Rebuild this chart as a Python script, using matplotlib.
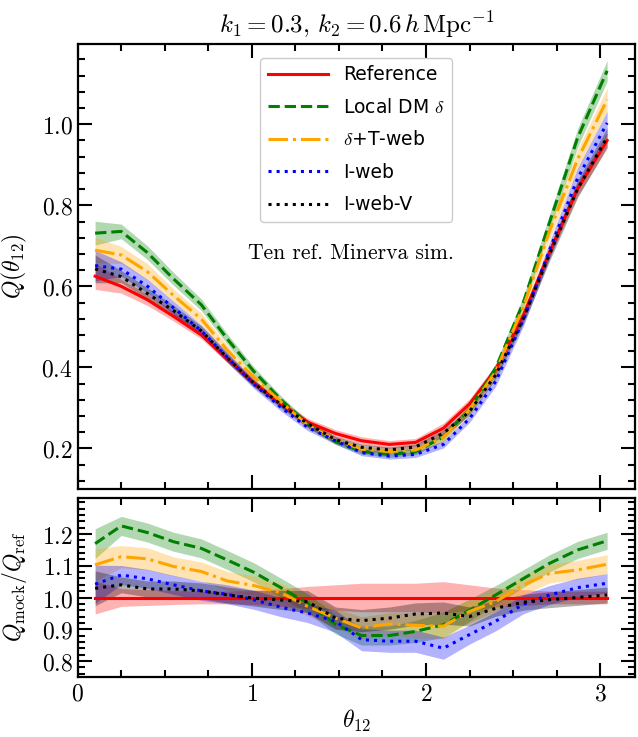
import matplotlib
matplotlib.use("Agg")
import matplotlib.pyplot as plt
import numpy as np
from matplotlib.ticker import MultipleLocator, FuncFormatter

plt.rcParams["mathtext.fontset"] = "cm"
plt.rcParams["font.family"] = "DejaVu Sans"

# bin centres of theta_12
theta = np.array([0.10, 0.25, 0.40, 0.55, 0.71, 0.86, 1.01, 1.17, 1.32, 1.48,
                  1.63, 1.79, 1.94, 2.10, 2.25, 2.40, 2.56, 2.71, 2.87, 3.04])

# reduced bispectrum of the reference sims
q_ref = np.array([0.625, 0.600, 0.567, 0.526, 0.480, 0.420, 0.362, 0.310, 0.265, 0.237,
                  0.219, 0.210, 0.215, 0.250, 0.310, 0.395, 0.530, 0.685, 0.840, 0.960])

# ratios Q_mock / Q_ref
ratio_ref = np.ones(20)
ratio_dm = np.array([1.170, 1.226, 1.205, 1.176, 1.155, 1.118, 1.080, 1.030, 0.982, 0.915,
                     0.880, 0.880, 0.893, 0.914, 0.960, 1.008, 1.060, 1.108, 1.150, 1.179])
ratio_tweb = np.array([1.103, 1.129, 1.122, 1.098, 1.082, 1.052, 1.038, 1.014, 0.972, 0.935,
                       0.904, 0.917, 0.912, 0.910, 0.956, 0.987, 1.040, 1.076, 1.087, 1.105])
ratio_iweb = np.array([1.042, 1.071, 1.059, 1.040, 1.021, 1.010, 0.993, 0.969, 0.951, 0.925,
                       0.867, 0.862, 0.862, 0.840, 0.883, 0.925, 0.979, 1.008, 1.031, 1.045])
ratio_iwebv = np.array([1.029, 1.040, 1.027, 1.027, 1.021, 1.008, 0.998, 0.992, 0.987, 0.935,
                        0.927, 0.935, 0.948, 0.951, 0.940, 0.966, 0.985, 0.993, 1.000, 1.008])

# 1-sigma half widths of the ratios
err_ref = np.array([0.052, 0.028, 0.025, 0.022, 0.020, 0.020, 0.022, 0.028, 0.035, 0.040,
                    0.045, 0.045, 0.045, 0.050, 0.040, 0.030, 0.025, 0.020, 0.020, 0.020])
err_dm = np.array([0.047, 0.030, 0.030, 0.030, 0.030, 0.030, 0.030, 0.030, 0.030, 0.030,
                   0.030, 0.030, 0.035, 0.040, 0.035, 0.030, 0.028, 0.027, 0.027, 0.027])
err_tweb = np.array([0.050, 0.035, 0.035, 0.030, 0.030, 0.030, 0.030, 0.030, 0.030, 0.030,
                     0.035, 0.035, 0.040, 0.040, 0.035, 0.030, 0.030, 0.030, 0.030, 0.030])
err_iweb = np.array([0.060, 0.030, 0.030, 0.030, 0.030, 0.030, 0.030, 0.030, 0.030, 0.035,
                     0.035, 0.035, 0.035, 0.035, 0.030, 0.030, 0.030, 0.030, 0.030, 0.030])
err_iwebv = np.array([0.055, 0.025, 0.025, 0.025, 0.025, 0.025, 0.025, 0.030, 0.035, 0.035,
                      0.035, 0.035, 0.035, 0.035, 0.030, 0.025, 0.025, 0.025, 0.025, 0.025])

labels = ["Reference", r"Local DM $\delta$", r"$\delta$+T-web", "I-web", "I-web-V"]
colors = ["red", "green", "orange", "blue", "black"]
styles = ["-", "--", "-.", ":", ":"]
ratios = [ratio_ref, ratio_dm, ratio_tweb, ratio_iweb, ratio_iwebv]
errs = [err_ref, err_dm, err_tweb, err_iweb, err_iwebv]

fig = plt.figure(figsize=(6.38, 7.37), dpi=100)
ax1 = fig.add_axes([0.1218, 0.3365, 0.8735, 0.6038])
ax2 = fig.add_axes([0.1218, 0.0818, 0.8735, 0.2429])

for r, e, c, ls, lab in zip(ratios, errs, colors, styles, labels):
    q = q_ref * r
    ax1.fill_between(theta, q_ref * (r - e), q_ref * (r + e), color=c, alpha=0.3, lw=0)
    ax1.plot(theta, q, color=c, ls=ls, lw=2.2, label=lab)
    ax2.fill_between(theta, r - e, r + e, color=c, alpha=0.3, lw=0)
    ax2.plot(theta, r, color=c, ls=ls, lw=2.2)

ax1.set_xlim(0, 3.2)
ax1.set_ylim(0.1, 1.198)
ax2.set_xlim(0, 3.2)
ax2.set_ylim(0.75, 1.315)

cm_fmt1 = FuncFormatter(lambda v, p: "$%.1f$" % v)
cm_fmt0 = FuncFormatter(lambda v, p: "$%d$" % round(v))
for ax in (ax1, ax2):
    ax.xaxis.set_major_locator(MultipleLocator(1))
    ax.xaxis.set_minor_locator(MultipleLocator(0.25))
    ax.tick_params(which="both", direction="in", top=True, right=True, width=1.5, labelsize=17)
    ax.tick_params(which="major", length=10)
    ax.tick_params(which="minor", length=5)
    ax.yaxis.set_major_formatter(cm_fmt1)
    for s in ax.spines.values():
        s.set_linewidth(1.6)
ax1.set_yticks([0.2, 0.4, 0.6, 0.8, 1.0])
ax1.yaxis.set_minor_locator(MultipleLocator(0.04))
ax2.set_yticks([0.8, 0.9, 1.0, 1.1, 1.2])
ax2.yaxis.set_minor_locator(MultipleLocator(0.02))
ax1.tick_params(labelbottom=False)
ax2.xaxis.set_major_formatter(cm_fmt0)

ax1.set_ylabel(r"$Q(\theta_{12})$", fontsize=17)
ax2.set_ylabel(r"$Q_{\rm mock}/Q_{\rm ref}$", fontsize=17)
ax2.set_xlabel(r"$\theta_{12}$", fontsize=17, labelpad=2)
ax1.yaxis.set_label_coords(-0.088, 0.5)
ax2.yaxis.set_label_coords(-0.088, 0.5)
ax1.set_title(r"$k_1 = 0.3,\, k_2 = 0.6\, h\, {\rm Mpc}^{-1}$", fontsize=18, pad=8)

ax1.text(0.49, 0.53, "Ten ref. Minerva sim.", transform=ax1.transAxes, ha="center",
         va="center", fontsize=15.5, family="cmr10")
ax1.legend(loc="upper center", bbox_to_anchor=(0.5, 0.99), fontsize=13.5,
           handlelength=3.2, labelspacing=0.72, frameon=True, framealpha=1)

plt.savefig("out.png", dpi=100)
